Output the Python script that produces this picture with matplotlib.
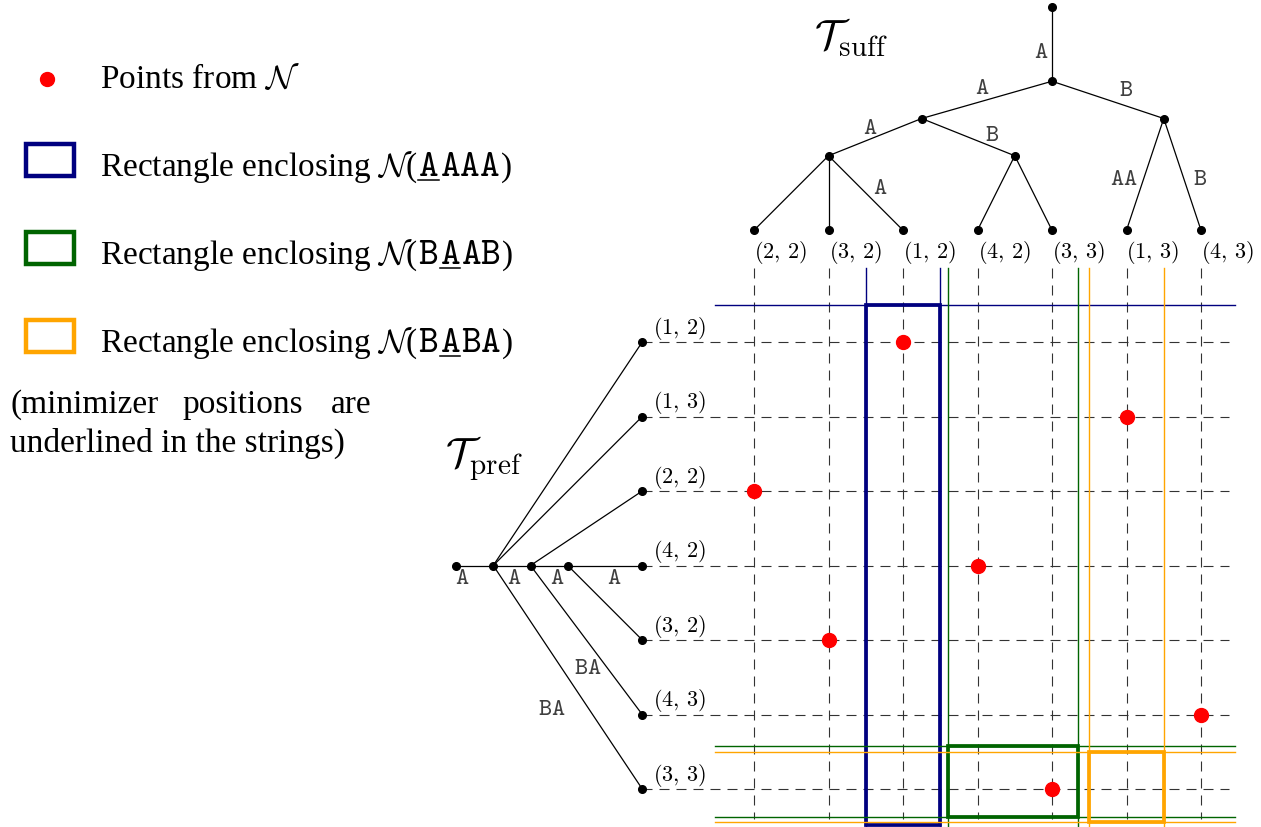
import matplotlib
matplotlib.use("Agg")
import matplotlib.pyplot as plt
from matplotlib.patches import Rectangle

plt.rcParams['mathtext.fontset'] = 'cm'
plt.rcParams['font.family'] = ['Liberation Serif', 'DejaVu Serif']

# data
col_labels = ["(2,2)", "(3,2)", "(1,2)", "(4,2)", "(3,3)", "(1,3)", "(4,3)"]
row_labels = ["(1,2)", "(1,3)", "(2,2)", "(4,2)", "(3,2)", "(4,3)", "(3,3)"]
points_N = ["(1,2)", "(1,3)", "(2,2)", "(4,2)", "(3,2)", "(4,3)", "(3,3)"]

# suffix tree (top) : internal nodes + edges (parent, child, label)
suff_nodes = {"r": (4.0, -4.5), "s": (4.0, -3.5), "sA": (2.25, -3.0),
              "sB": (5.5, -3.0), "sAA": (1.0, -2.5), "sAB": (3.5, -2.5)}
suff_edges = [("r", "s", "A"), ("s", "sA", "A"), ("s", "sB", "B"),
              ("sA", "sAA", "A"), ("sA", "sAB", "B"),
              ("sAA", "L0", ""), ("sAA", "L1", ""), ("sAA", "L2", "A"),
              ("sAB", "L3", ""), ("sAB", "L4", ""),
              ("sB", "L5", "AA"), ("sB", "L6", "B")]
suff_lbl_pos = [(3.85, -3.9), (3.07, -3.42), (5.0, -3.4), (1.56, -2.88), (3.19, -2.79),
                None, None, (1.69, -2.08), None, None, (4.97, -2.2), (5.99, -2.2)]

# prefix tree (left)
pref_nodes = {"p0": (-4.0, 3), "p1": (-3.5, 3), "p2": (-3.0, 3), "p3": (-2.5, 3)}
pref_edges = [("p0", "p1", "A"), ("p1", "R0", ""), ("p1", "R1", ""), ("p1", "p2", "A"),
              ("p1", "R6", "BA"), ("p2", "R2", ""), ("p2", "p3", "A"), ("p2", "R5", "BA"),
              ("p3", "R3", "A"), ("p3", "R4", "")]
pref_lbl_pos = [(-3.91, 3.15), None, None, (-3.22, 3.15), (-2.71, 4.91), None,
                (-2.64, 3.15), (-2.23, 4.36), (-1.87, 3.15), None]

# rectangles: (name, underlined index, col0, col1, row0, row1, color)
rects = [("AAAA", 0, 1.5, 2.5, -0.5, 6.48, "#00007f"),
         ("BAAB", 1, 2.6, 4.35, 5.42, 6.37, "#006400"),
         ("BABA", 1, 4.5, 5.5, 5.5, 6.44, "#ffa500")]

W, H = 1261, 828
fig = plt.figure(figsize=(W / 100, H / 100), dpi=100)

ax = fig.add_axes([0, 0, 1, 1])
ax.set_xlim(-754 / 74.5, (W - 754) / 74.5)
ax.set_ylim((H - 343) / 74.5, -343 / 74.5)
ax.axis('off')

for i in range(7):
    suff_nodes["L%d" % i] = (i, -1.5)
    pref_nodes["R%d" % i] = (-1.5, i)

def tt(s):
    return r"$\mathtt{%s}$" % s

# dashed grid
for r in range(len(row_labels)):
    ax.plot([-1.5, 6.38], [r, r], color='0.2', lw=0.8, ls=(0, (9, 6.3)), zorder=1)
for c in range(len(col_labels)):
    ax.plot([c, c], [-1.0, 6.4], color='0.2', lw=0.8, ls=(0, (9, 6.3)), zorder=1)

# trees
def draw_tree(nodes, edges, lbl_pos):
    for (a, b, lab), pos in zip(edges, lbl_pos):
        xa, ya = nodes[a]
        xb, yb = nodes[b]
        ax.plot([xa, xb], [ya, yb], color='black', lw=0.9, zorder=2)
        if lab:
            ax.text(pos[0], pos[1], tt(lab), fontsize=18, color='0.25',
                    ha='center', va='center')
    xs = [p[0] for p in nodes.values()]
    ys = [p[1] for p in nodes.values()]
    ax.plot(xs, ys, 'o', color='black', ms=5.5, ls='none', zorder=3)

draw_tree(suff_nodes, suff_edges, suff_lbl_pos)
draw_tree(pref_nodes, pref_edges, pref_lbl_pos)

def mlabel(s):
    a, b = s.strip("()").split(",")
    return r"$(%s,\,%s)$" % (a, b)

for c, lab in enumerate(col_labels):
    ax.text(c, -1.21, mlabel(lab), fontsize=16, ha='left', va='center')
for r, lab in enumerate(row_labels):
    ax.text(-1.35, r - 0.2, mlabel(lab), fontsize=16, ha='left', va='center')

ax.text(0.8, -4.1, r"$\mathcal{T}_{\mathrm{suff}}$", fontsize=30, ha='left', va='center')
ax.text(-4.15, 1.55, r"$\mathcal{T}_{\mathrm{pref}}$", fontsize=30, ha='left', va='center')

# rectangles with guide lines
for name, u, c0, c1, r0, r1, col in rects:
    ax.add_patch(Rectangle((c0, r0), c1 - c0, r1 - r0, fill=False, ec=col, lw=2.7, zorder=4))
    for cc in (c0, c1):
        ax.plot([cc, cc], [-1.0, 6.6], color=col, lw=1.0, zorder=4)
    for rr in (r0, r1):
        if rr < 6.45:
            ax.plot([-0.52, 6.45], [rr, rr], color=col, lw=1.0, zorder=4)

# points from N
px = [col_labels.index(p) for p in points_N]
py = [row_labels.index(p) for p in points_N]
ax.plot(px, py, 'o', color='red', ms=10, ls='none', zorder=5)

# legend (pixel coordinates)
lax = fig.add_axes([0, 0, 1, 1])
lax.set_xlim(0, W)
lax.set_ylim(H, 0)
lax.axis('off')
renderer = fig.canvas.get_renderer()

lax.plot([47], [80], 'o', color='red', ms=10)
lax.text(100, 88, r"Points from $\mathcal{N}$", fontsize=24, ha='left', va='baseline')

def rich_line(x, y, parts):
    for s, size, ul in parts:
        t = lax.text(x, y, s, fontsize=size, ha='left', va='baseline')
        bb = t.get_window_extent(renderer).transformed(lax.transData.inverted())
        if ul:
            lax.plot([bb.x0, bb.x1], [y + 5, y + 5], color='black', lw=1.1)
        x = bb.x1 + 1

for k, (name, u, c0, c1, r0, r1, col) in enumerate(rects):
    yb = 176 + 88 * k
    lax.add_patch(Rectangle((26, yb - 31), 48, 32, fill=False, ec=col, lw=3.2))
    parts = [(r"Rectangle enclosing $\mathcal{N}$(", 24, False)]
    if u > 0:
        parts.append((tt(name[:u]), 27, False))
    parts.append((tt(name[u]), 27, True))
    parts.append((tt(name[u + 1:]), 27, False))
    parts.append((")", 24, False))
    rich_line(100, yb, parts)

lax.text(10, 413, "(minimizer", fontsize=24, ha='left', va='baseline')
lax.text(243, 413, "positions", fontsize=24, ha='center', va='baseline')
lax.text(372, 413, "are", fontsize=24, ha='right', va='baseline')
lax.text(10, 452, "underlined in the strings)", fontsize=24, ha='left', va='baseline')

fig.savefig("out.png", dpi=100)
